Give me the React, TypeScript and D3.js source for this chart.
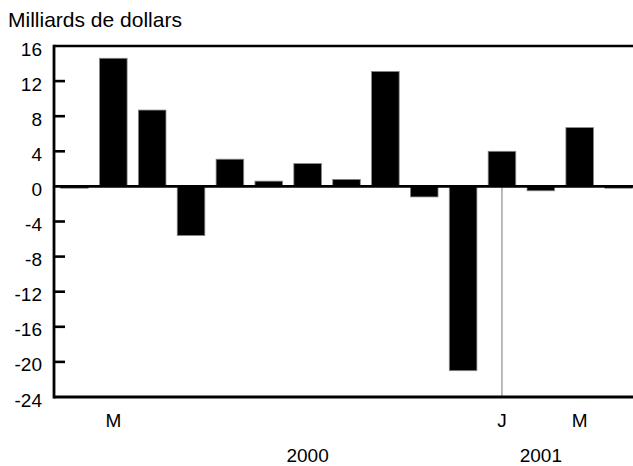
import React from "react";
import * as d3 from "d3";

const categories = [
  "2000-02", "2000-03", "2000-04", "2000-05", "2000-06", "2000-07", "2000-08",
  "2000-09", "2000-10", "2000-11", "2000-12", "2001-01", "2001-02", "2001-03", "2001-04",
];
const values = [-0.2, 14.6, 8.7, -5.6, 3.1, 0.6, 2.6, 0.8, 13.1, -1.2, -21.0, 4.0, -0.5, 6.7, -0.2];
const monthLabels = ["", "M", "", "", "", "", "", "", "", "", "", "J", "", "M", ""];
const yearLabels = [
  { text: "2000", at: "2000-08" },
  { text: "2001", at: "2001-02" },
];
const yTicks = [16, 12, 8, 4, 0, -4, -8, -12, -16, -20, -24];
const title = "Milliards de dollars";
const yearBreak = "2001-01";

const W = 633;
const H = 466;
const FONT = "'Liberation Sans', Arial, Helvetica, sans-serif";

export default function App() {
  const x = d3
    .scaleBand<string>()
    .domain(categories)
    .range([55, 638])
    .paddingInner(0.29)
    .paddingOuter(0.145);
  const y = d3.scaleLinear().domain([-24, 16]).range([397, 46]);
  const left = 54;
  const right = W;
  const bw = x.bandwidth();
  const xb = (x(yearBreak) as number) + bw / 2;

  return (
    <svg
      width={W}
      height={H}
      style={{ position: "absolute", left: 0, top: 0, background: "#fff" }}
      fontFamily={FONT}
    >
      <text x={8} y={27} fontSize={21} fill="#000">
        {title}
      </text>
      {/* bars */}
      {values.map((v, i) => {
        const c = categories[i];
        const y0 = y(Math.max(0, v));
        const y1 = y(Math.min(0, v));
        return (
          <rect
            key={c}
            x={x(c)}
            y={y0}
            width={bw}
            height={Math.max(0.5, y1 - y0)}
            fill="#000"
            stroke="#888"
            strokeWidth={0.8}
          />
        );
      })}
      {/* year break line */}
      <line x1={xb} x2={xb} y1={y(0)} y2={y(-24)} stroke="#777" strokeWidth={1} />
      {/* zero line */}
      <line x1={left} x2={right} y1={y(0)} y2={y(0)} stroke="#000" strokeWidth={2.6} />
      {/* top and bottom frame */}
      <line x1={left} x2={right} y1={y(16)} y2={y(16)} stroke="#000" strokeWidth={2.6} />
      <line x1={left} x2={right} y1={y(-24)} y2={y(-24)} stroke="#000" strokeWidth={2.8} />
      {/* left axis */}
      <line x1={left} x2={left} y1={y(16) - 1.3} y2={y(-24) + 1.4} stroke="#000" strokeWidth={2.8} />
      {yTicks.map((t) => (
        <g key={t}>
          {t !== 16 && t !== -24 && t !== 0 && (
            <line x1={left} x2={left + 11} y1={y(t)} y2={y(t)} stroke="#000" strokeWidth={2.6} />
          )}
          <text
            x={42}
            y={y(t) + 9.5}
            textAnchor="end"
            fontSize={19}
            fill="#000"
          >
            {t}
          </text>
        </g>
      ))}
      {/* month labels */}
      {monthLabels.map((m, i) =>
        m ? (
          <text
            key={i}
            x={(x(categories[i]) as number) + bw / 2}
            y={427}
            textAnchor="middle"
            fontSize={19}
            fill="#000"
          >
            {m}
          </text>
        ) : null
      )}
      {yearLabels.map((yl) => (
        <text
          key={yl.text}
          x={(x(yl.at) as number) + bw / 2}
          y={462}
          textAnchor="middle"
          fontSize={19}
          fill="#000"
        >
          {yl.text}
        </text>
      ))}
    </svg>
  );
}
